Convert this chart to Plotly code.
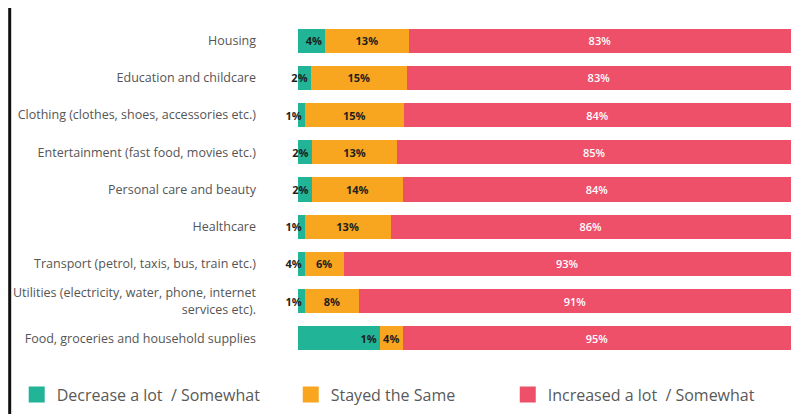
import plotly.graph_objects as go

categories = [
    "Housing",
    "Education and childcare",
    "Clothing (clothes, shoes, accessories etc.)",
    "Entertainment (fast food, movies etc.)",
    "Personal care and beauty",
    "Healthcare",
    "Transport (petrol, taxis, bus, train etc.)",
    "Utilities (electricity, water, phone, internet<br>services etc).",
    "Food, groceries and household supplies",
]

# segment lengths as drawn in the picture (share of bar)
decrease = [5.5, 2.6, 1.4, 2.8, 2.8, 1.4, 1.4, 1.4, 16.6]
stayed = [17.0, 19.5, 20.1, 17.4, 18.5, 17.4, 7.9, 11.0, 4.7]
increased = [77.5, 77.9, 78.5, 79.8, 78.7, 81.2, 90.7, 87.6, 78.7]

# printed labels
decrease_labels = ["4%", "2%", "1%", "2%", "2%", "1%", "4%", "1%", "1%"]
stayed_labels = ["13%", "15%", "15%", "13%", "14%", "13%", "6%", "8%", "4%"]
increased_labels = ["83%", "83%", "84%", "85%", "84%", "86%", "93%", "91%", "95%"]

names = ["Decrease a lot  / Somewhat", "Stayed the Same", "Increased a lot  / Somewhat"]
colors = ["#21b497", "#f8a620", "#ee506a"]
label_colors = ["#1e1e1e", "#1e1e1e", "#ffffff"]
anchors = ["end", "middle", "middle"]
legend_ids = ["legend", "legend2", "legend3"]

fig = go.Figure()
series = [decrease, stayed, increased]
labels = [decrease_labels, stayed_labels, increased_labels]
for vals, txt, name, col, tcol, anc, lg in zip(series, labels, names, colors,
                                              label_colors, anchors, legend_ids):
    fig.add_trace(go.Bar(
        y=categories, x=vals, orientation="h", name=name,
        marker=dict(color=col, line=dict(width=0)),
        text=txt, textposition="inside", insidetextanchor=anc,
        textangle=0,
        textfont=dict(color=tcol, size=11,
                      family="Open Sans", weight=700 if tcol != "#ffffff" else 600),
        constraintext="none", showlegend=False, hoverinfo="skip",
    ))
    # bigger legend squares than the bar default
    fig.add_trace(go.Scatter(
        x=[None], y=[None], mode="markers", name=name, legend=lg,
        marker=dict(symbol="square", size=16, color=col),
    ))

legend_style = dict(orientation="h", xref="container", yref="container",
                    y=0.048, xanchor="left", yanchor="middle",
                    font=dict(size=16, color="#595959"), itemclick=False,
                    bgcolor="rgba(0,0,0,0)")

fig.update_layout(
    width=792, height=406,
    barmode="stack", bargap=0.35,
    margin=dict(l=275, r=9, t=14, b=57),
    paper_bgcolor="white", plot_bgcolor="white",
    font=dict(family="Open Sans", color="#555555"),
    uniformtext=dict(minsize=11, mode="show"),
    # a little room left of zero so the small labels are not clipped
    xaxis=dict(range=[-3, 100], visible=False, fixedrange=True),
    yaxis=dict(categoryorder="array", categoryarray=categories,
               autorange="reversed", showgrid=False, showline=False,
               ticks="", ticklabelstandoff=26, automargin=False,
               tickfont=dict(size=12.5, color="#555555")),
    legend=dict(x=0.011, **legend_style),
    legend2=dict(x=0.357, **legend_style),
    legend3=dict(x=0.631, **legend_style),
    shapes=[
        dict(type="line", xref="paper", yref="paper",
             x0=-0.538, x1=-0.538, y0=-0.2, y1=1.1,
             line=dict(color="#111111", width=3)),
        dict(type="line", xref="paper", yref="paper",
             x0=1.004, x1=1.004, y0=-0.2, y1=1.1,
             line=dict(color="#111111", width=2)),
    ],
)

fig.write_html("out.html")
